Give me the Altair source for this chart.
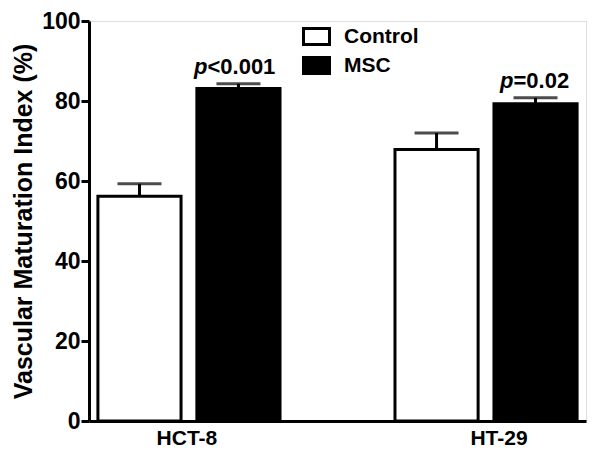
import altair as alt
import pandas as pd

cells = ["HCT-8", "HCT-8", "HT-29", "HT-29"]
groups = ["Control", "MSC", "Control", "MSC"]
means = [56.2, 83.1, 67.9, 79.3]
sems = [3.1, 1.2, 4.1, 1.5]

p_cells = ["HCT-8", "HT-29"]
p_group = ["MSC", "MSC"]
p_rest = ["<0.001", "=0.02"]

FONT = "Liberation Sans"

df = pd.DataFrame({"cell": cells, "group": groups, "mean": means, "sem": sems})
df["upper"] = df["mean"] + df["sem"]

pdf = pd.DataFrame({"cell": p_cells, "group": p_group, "rest": p_rest})
pdf = pdf.merge(df[["cell", "group", "upper"]], on=["cell", "group"])
pdf["p"] = "p"

x_enc = alt.X("cell:N", title=None,
              scale=alt.Scale(paddingInner=0.387, paddingOuter=0.03),
              axis=alt.Axis(labelAngle=0, ticks=False, labelPadding=6,
                            labelFontSize=21, labelFont=FONT, labelFontWeight="bold",
                            labelColor="black", domainColor="black", domainWidth=3,
                            labelOffset={"condition": {"test": "datum.value === 'HT-29'", "value": 13}, "value": -2}))
xo_enc = alt.XOffset("group:N", scale=alt.Scale(domain=["Control", "MSC"], paddingInner=0.16, paddingOuter=0))
y_scale = alt.Scale(domain=[0, 100], nice=False)

bars = alt.Chart(df).mark_bar(stroke="black", strokeWidth=3).encode(
    x=x_enc,
    xOffset=xo_enc,
    y=alt.Y("mean:Q", scale=y_scale, title="Vascular Maturation Index (%)",
            axis=alt.Axis(values=[0, 20, 40, 60, 80, 100], grid=False, tickSize=8, tickWidth=3,
                          tickColor="black", domainColor="black", domainWidth=3,
                          labelFontSize=23, labelFont=FONT, labelFontWeight="bold",
                          labelColor="black", labelPadding=1,
                          titleFontSize=25, titleFont=FONT, titleFontWeight="bold",
                          titleColor="black", titlePadding=5)),
    fill=alt.Fill("group:N", scale=alt.Scale(domain=["Control", "MSC"], range=["white", "black"]),
                  legend=alt.Legend(title=None, orient="none", legendX=216, legendY=4,
                                    symbolType="M-1.3,-0.8H1.3V0.8H-1.3Z", symbolSize=400,
                                    symbolStrokeColor="black", symbolStrokeWidth=3,
                                    labelFont=FONT, labelFontSize=21, labelFontWeight="bold",
                                    labelColor="black", labelOffset=16, rowPadding=0, padding=0)),
)

err_rule = alt.Chart(df).mark_rule(color="black", strokeWidth=3).encode(
    x=alt.X("cell:N"), xOffset=xo_enc, y=alt.Y("mean:Q", scale=y_scale), y2="upper:Q"
)
err_cap = alt.Chart(df).mark_tick(color="black", thickness=3, size=44).encode(
    x=alt.X("cell:N"), xOffset=xo_enc, y=alt.Y("upper:Q", scale=y_scale)
)

layers = [bars, err_rule, err_cap]
for cell, dx in [("HCT-8", -31), ("HT-29", -22)]:
    base = alt.Chart(pdf).transform_filter(alt.datum.cell == cell)
    layers.append(base.mark_text(align="right", baseline="alphabetic", dx=dx, dy=-10,
                                 font=FONT, fontSize=22, fontWeight="bold", fontStyle="italic",
                                 color="black").encode(
        x=alt.X("cell:N"), xOffset=xo_enc, y=alt.Y("upper:Q", scale=y_scale), text="p:N"))
    layers.append(base.mark_text(align="left", baseline="alphabetic", dx=dx, dy=-10,
                                 font=FONT, fontSize=22, fontWeight="bold",
                                 color="black").encode(
        x=alt.X("cell:N"), xOffset=xo_enc, y=alt.Y("upper:Q", scale=y_scale), text="rest:N"))

chart = alt.layer(*layers).properties(
    width=497, height=400,
    autosize=alt.AutoSizeParams(type="none"),
    padding={"left": 81, "top": 13, "right": 6, "bottom": 30},
).configure_view(stroke=None).configure(background="white")

chart.save("out.html", embed_options={"renderer": "svg", "actions": False})
